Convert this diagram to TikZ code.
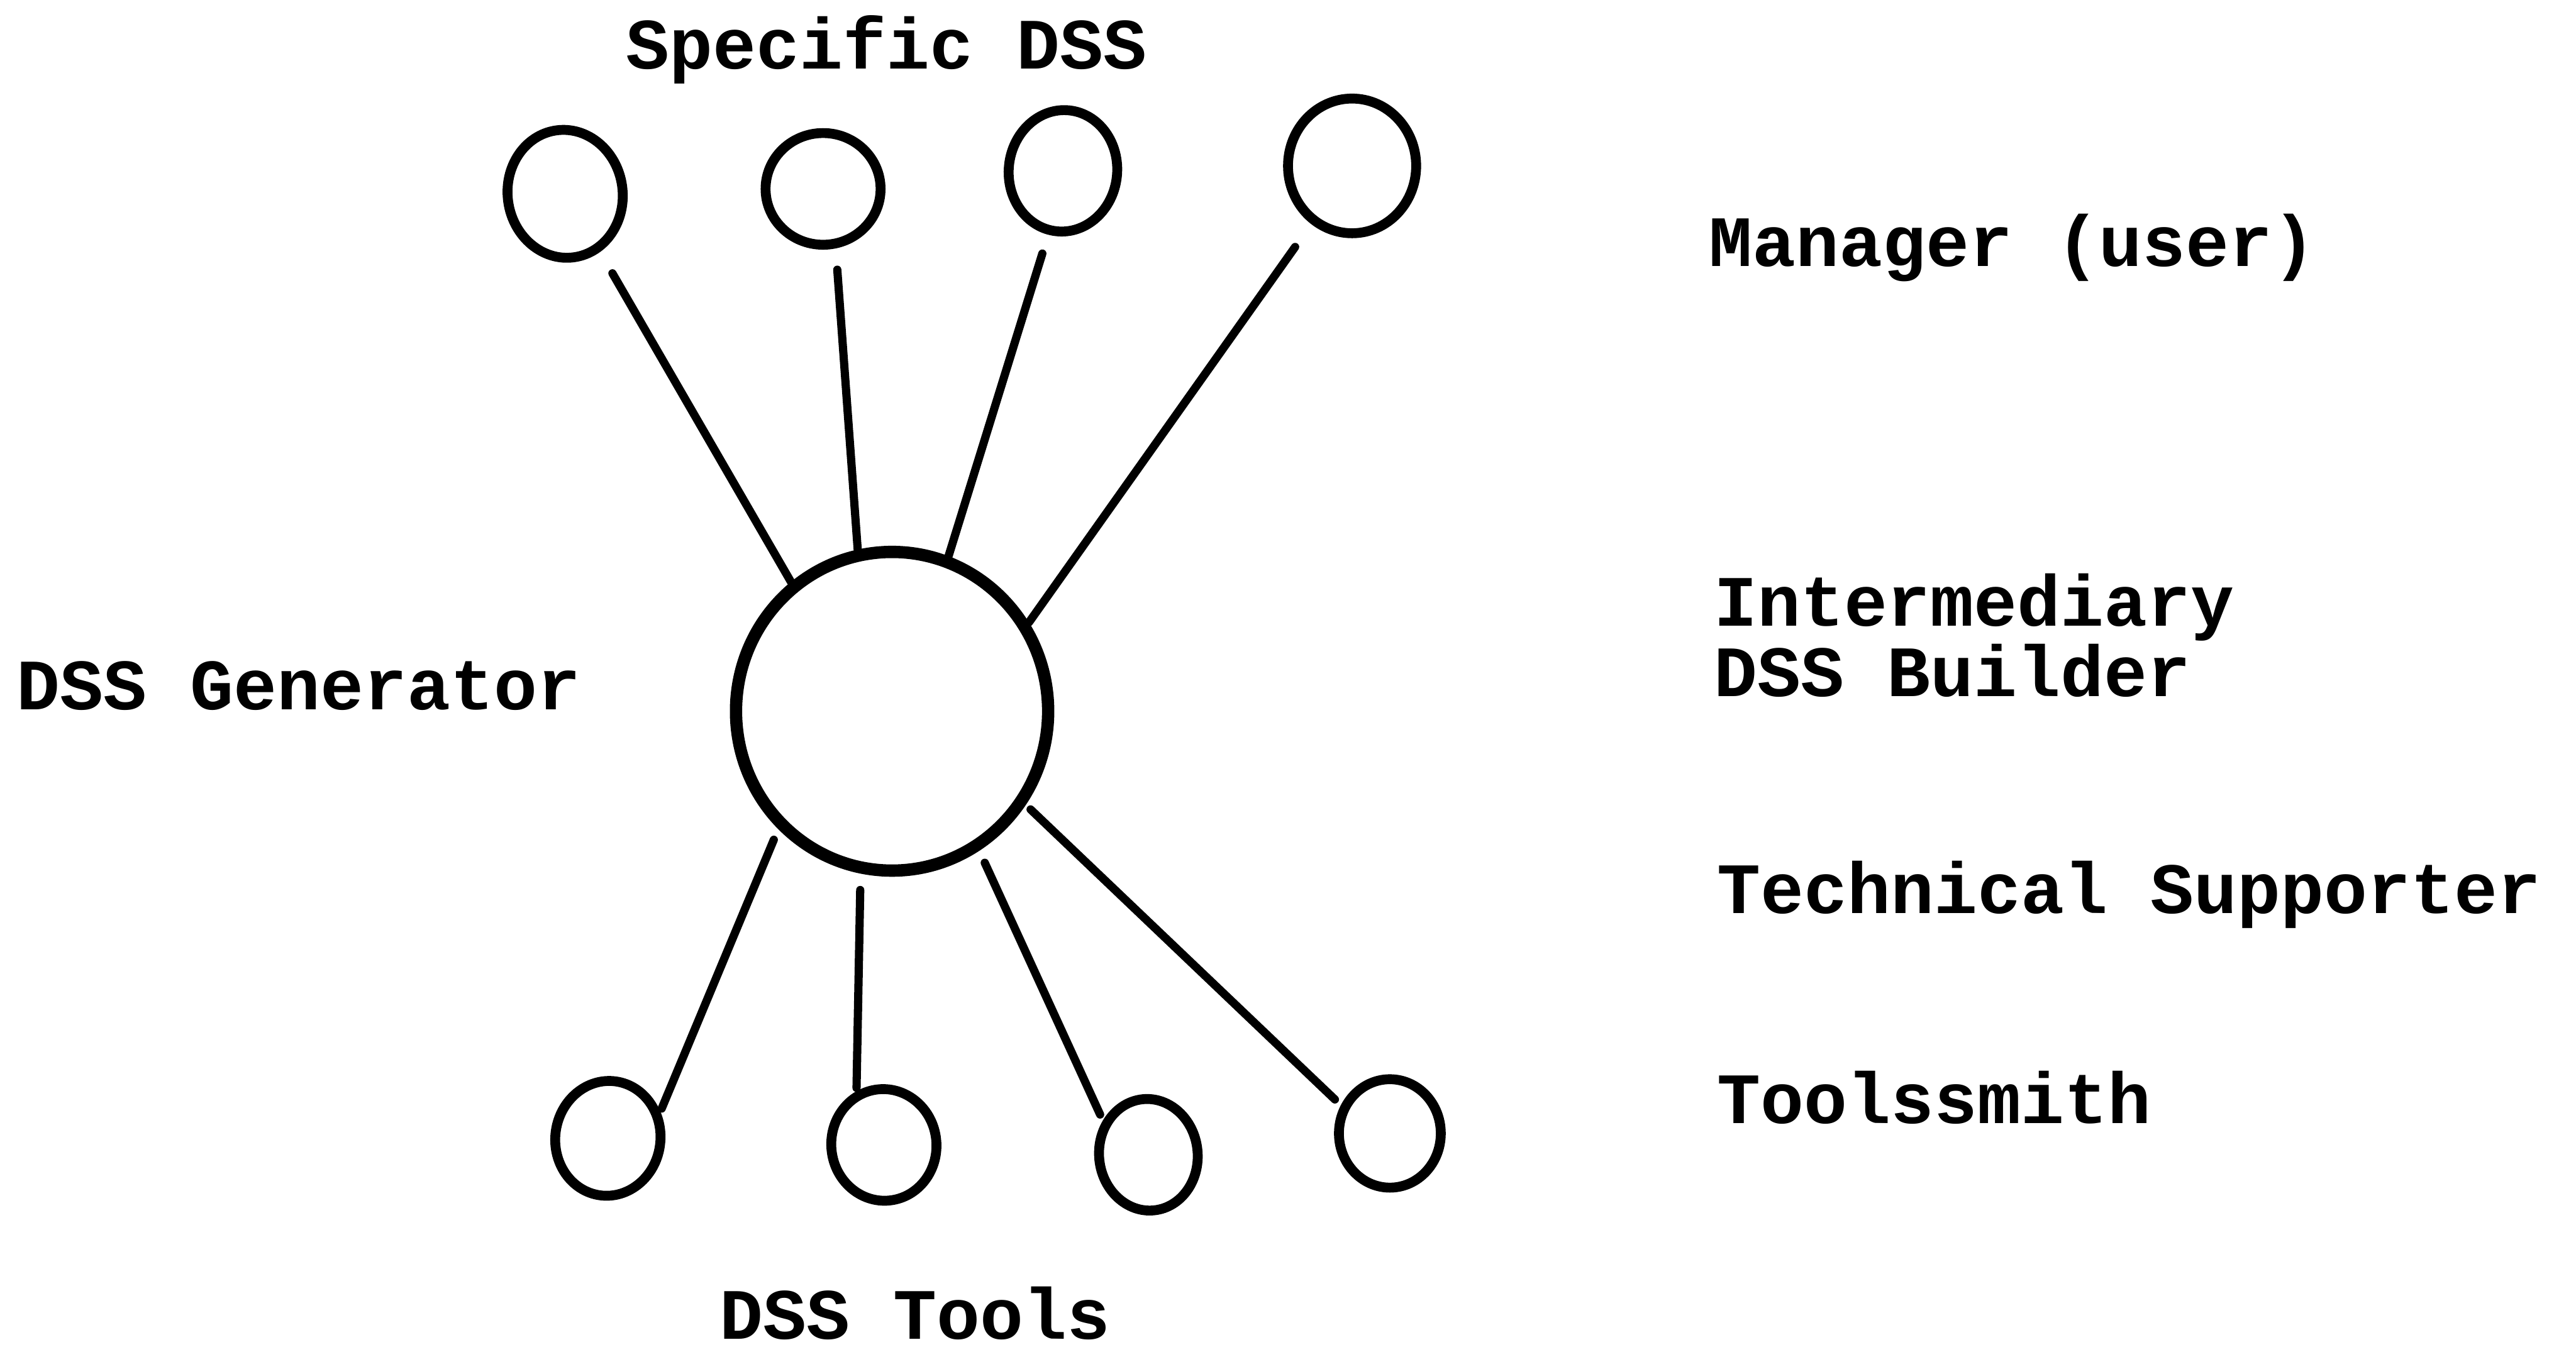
\documentclass[tikz,border=0pt]{standalone}
\usepackage{fontspec}
\setmonofont{Liberation Mono}
\usetikzlibrary{shapes.geometric}
\begin{document}
\begin{tikzpicture}[x=1pt,y=-1pt,
  bubble/.style={draw, line width=6pt, ellipse, inner sep=0pt},
  hub/.style={draw, line width=7.5pt, ellipse, inner sep=0pt,
    minimum width=190pt, minimum height=194pt},
  link/.style={line width=5pt, line cap=round},
  lbl/.style={font=\ttfamily\bfseries\fontsize{44}{44}\selectfont,
    anchor=base west, inner sep=0pt}]
\useasboundingbox[fill=white] (0,0) rectangle (1568,826);

% central generator
\node[hub] (C) at (543,433) {};

% specific DSS (top row)
\node[bubble, minimum width=70pt, minimum height=78pt, rotate=8] (T1) at (344,118) {};
\node[bubble, minimum width=70pt, minimum height=68pt] (T2) at (501,115) {};
\node[bubble, minimum width=66pt, minimum height=74pt, rotate=-6] (T3) at (647,104) {};
\node[bubble, minimum width=78pt, minimum height=82pt] (T4) at (823,101) {};

% DSS tools (bottom row)
\node[bubble, minimum width=64pt, minimum height=70pt, rotate=-8] (B1) at (370,693) {};
\node[bubble, minimum width=64pt, minimum height=68pt, rotate=6] (B2) at (538,697) {};
\node[bubble, minimum width=60pt, minimum height=68pt, rotate=6] (B3) at (699,703) {};
\node[bubble, minimum width=62pt, minimum height=66pt] (B4) at (846,690) {};

% spokes
\draw[link, shorten >=15pt] (C.128) -- (T1.-67);
\draw[link, shorten >=13pt] (C.102) -- (T2.-78);
\draw[link, shorten >=12pt] (C.70) -- (T3.-97);
\draw[link, shorten >=17pt] (C.33) -- (T4.-125);
\draw[link, shorten <=7pt, shorten >=2pt] (C.226) -- (B1.35);
\draw[link, shorten <=10pt, shorten >=2pt] (C.259) -- (B2.111);
\draw[link, shorten <=8pt, shorten >=4pt] (C.302) -- (B3.137);
\draw[link, shorten <=4pt, shorten >=5pt] (C.325) -- (B4.150);

% labels
\node[lbl] (specific) at (381,42) {Specific DSS};
\node[lbl] (generator) at (10,432) {DSS Generator};
\node[lbl] (tools) at (438,815) {DSS Tools};
\node[lbl] (manager) at (1040,162) {Manager (user)};
\node[lbl] (inter) at (1043,381) {Intermediary};
\node[lbl] (builder) at (1043,424) {DSS Builder};
\node[lbl] (tech) at (1045,556) {Technical Supporter};
\node[lbl] (smith) at (1045,684) {Toolssmith};
\end{tikzpicture}
\end{document}
